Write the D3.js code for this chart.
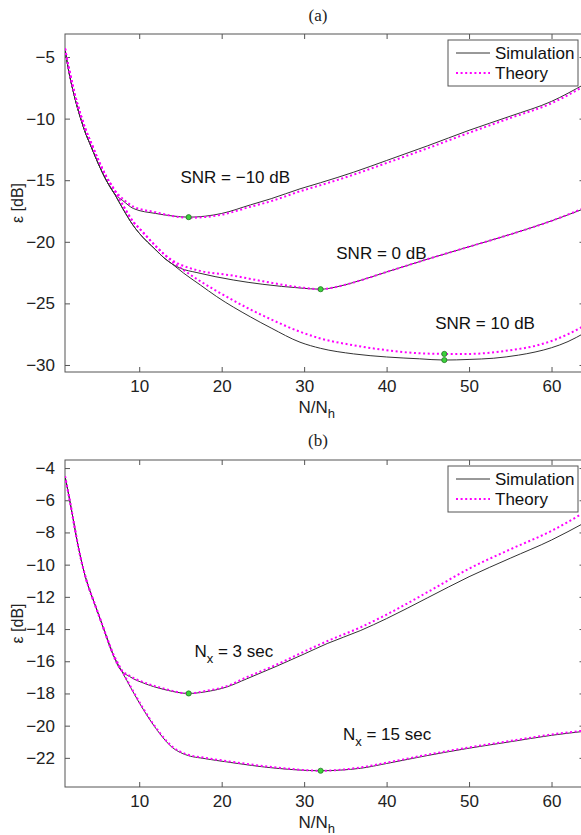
<!DOCTYPE html>
<html lang="en">
<head>
<meta charset="UTF-8" />
<title>Error vs N/Nh</title>
<script src="https://d3js.org/d3.v7.min.js"></script>
<style>
  body { margin: 0; background: #fff; }
  svg { display: block; font-family: "Liberation Sans", Arial, sans-serif; }
</style>
</head>
<body>
<svg id="chart"></svg>
<script>
// ---- data ----
const xTicks = [10, 20, 30, 40, 50, 60];
const yTicksA = [-30, -25, -20, -15, -10, -5];
const yTicksB = [-22, -20, -18, -16, -14, -12, -10, -8, -6, -4];

// panel (a): SNR curves, [N/Nh, eps dB]
const simSnrM10 = [[1,-4.4],[1.5,-6.3],[2,-7.8],[2.5,-9.1],[3,-10.2],[3.5,-11.2],[4,-12.0],[5,-13.6],[6,-15.0],[7,-16.1],
  [8,-16.65],[9.3,-17.3],[12,-17.7],[14,-17.9],[16,-18.0],[20,-17.7],[23.5,-17.0],[26,-16.5],[29.5,-15.7],[32,-15.2],
  [36,-14.35],[40,-13.4],[45,-12.2],[50,-10.95],[55,-9.8],[60,-8.6],[64,-7.2]];
const thSnrM10 = [[1,-4.3],[1.5,-6.0],[2,-7.5],[2.5,-8.8],[3,-9.9],[3.5,-10.9],[4,-11.7],[5,-13.3],[6,-14.7],[7,-15.8],
  [8,-16.5],[9.3,-17.15],[12,-17.6],[14,-17.9],[16,-18.05],[20,-17.8],[23.5,-17.15],[26,-16.7],[29.5,-15.9],[32,-15.4],
  [36,-14.55],[40,-13.6],[45,-12.4],[50,-11.15],[55,-9.95],[60,-8.75],[64,-7.35]];
const simSnr0 = [[1,-4.4],[1.5,-6.3],[2,-7.8],[2.5,-9.1],[3,-10.2],[3.5,-11.2],[4,-12.0],[5,-13.6],[6,-15.0],[7,-16.1],
  [8,-17.3],[9.3,-18.7],[10,-19.3],[12,-20.65],[13,-21.3],[14,-21.8],[15,-22.15],[17,-22.5],[21.4,-23.1],[25,-23.45],
  [29.5,-23.75],[32,-23.85],[34,-23.65],[36,-23.3],[40,-22.45],[45,-21.4],[50,-20.4],[55,-19.4],[60,-18.3],[64,-17.3]];
const thSnr0 = [[1,-4.3],[1.5,-6.0],[2,-7.5],[2.5,-8.8],[3,-9.9],[3.5,-10.9],[4,-11.7],[5,-13.3],[6,-14.7],[7,-15.8],
  [8,-17.0],[9.3,-18.4],[10,-18.9],[12,-20.35],[13,-21.0],[14,-21.5],[15,-21.85],[17,-22.3],[21.4,-22.75],[25,-23.2],
  [29.5,-23.7],[32,-23.85],[34,-23.65],[36,-23.3],[40,-22.45],[45,-21.4],[50,-20.4],[55,-19.4],[60,-18.3],[64,-17.25]];
const simSnr10 = [[1,-4.4],[1.5,-6.3],[2,-7.8],[2.5,-9.1],[3,-10.2],[3.5,-11.2],[4,-12.0],[5,-13.6],[6,-15.0],[7,-16.1],
  [8,-17.3],[9.3,-18.7],[10,-19.3],[12,-20.65],[13,-21.3],[14,-21.8],[15.4,-22.55],[17.4,-23.5],[19.4,-24.45],[23.5,-26.1],
  [26,-27.0],[29.5,-28.15],[32,-28.65],[36,-29.1],[40,-29.35],[44,-29.5],[47,-29.6],[50,-29.55],[53,-29.45],[56,-29.2],
  [58,-28.95],[60,-28.6],[62,-28.1],[64,-27.4]];
const thSnr10 = [[1,-4.3],[1.5,-6.0],[2,-7.5],[2.5,-8.8],[3,-9.9],[3.5,-10.9],[4,-11.7],[5,-13.3],[6,-14.7],[7,-15.8],
  [8,-17.0],[9.3,-18.4],[10,-18.9],[12,-20.35],[13,-21.0],[14,-21.6],[15.4,-22.3],[17.4,-23.2],[19.4,-24.0],[23.5,-25.5],
  [26,-26.3],[29.5,-27.3],[32,-27.85],[36,-28.4],[40,-28.8],[44,-29.05],[47,-29.1],[50,-29.1],[55,-28.8],[58,-28.45],
  [60,-28.05],[62,-27.5],[64,-26.8]];
const minDotsA = [[16,-18.0],[32,-23.85],[47,-29.1],[47,-29.6]];

// panel (b): record length curves
const simNx3 = [[1,-4.5],[1.5,-5.8],[2,-7.2],[2.5,-8.6],[3,-9.8],[3.5,-10.8],[4,-11.6],[4.5,-12.3],[5,-13.0],[5.7,-14.0],[6.5,-15.1],
  [7,-15.8],[7.5,-16.35],[9,-17.0],[10.5,-17.35],[13,-17.75],[16,-18.0],[18,-17.9],[20.6,-17.6],[23,-17.1],[26.7,-16.3],
  [30,-15.55],[32.8,-14.9],[36.8,-14.1],[40,-13.35],[45,-12.05],[50,-10.75],[55,-9.6],[60,-8.47],[64,-7.4]];
const thNx3 = [[1,-4.5],[1.5,-5.8],[2,-7.2],[2.5,-8.6],[3,-9.8],[3.5,-10.8],[4,-11.6],[4.5,-12.3],[5,-13.0],[5.7,-14.0],[6.5,-15.1],
  [7,-15.8],[7.5,-16.3],[9,-16.95],[10.5,-17.3],[13,-17.7],[16,-18.0],[18,-17.85],[20.6,-17.55],[23,-17.0],[26.7,-16.2],
  [30,-15.4],[32.8,-14.75],[36.8,-13.9],[40,-13.1],[45,-11.7],[50,-10.25],[55,-9.05],[60,-7.9],[64,-6.75]];
const simNx15 = [[1,-4.5],[1.5,-5.8],[2,-7.2],[2.5,-8.6],[3,-9.8],[3.5,-10.8],[4,-11.6],[4.5,-12.3],[5,-13.0],[5.7,-14.0],[6.5,-15.2],
  [7.5,-16.25],[8.5,-17.2],[10.5,-19.0],[12.5,-20.5],[14,-21.35],[15.6,-21.8],[18,-22.05],[20.6,-22.25],[26.7,-22.65],
  [32,-22.8],[36.8,-22.65],[40,-22.35],[45,-21.85],[50,-21.4],[55,-21.0],[60,-20.6],[64,-20.35]];
const thNx15 = [[1,-4.5],[1.5,-5.8],[2,-7.2],[2.5,-8.6],[3,-9.8],[3.5,-10.8],[4,-11.6],[4.5,-12.3],[5,-13.0],[5.7,-14.0],[6.5,-15.15],
  [7.5,-16.2],[8.5,-17.15],[10.5,-18.95],[12.5,-20.45],[14,-21.3],[15.6,-21.75],[18,-22.0],[20.6,-22.2],[26.7,-22.6],
  [32,-22.8],[36.8,-22.6],[40,-22.3],[45,-21.8],[50,-21.35],[55,-20.95],[60,-20.55],[64,-20.3]];
const minDotsB = [[16,-18.0],[32,-22.8]];

const legendLabels = ["Simulation", "Theory"];

// ---- layout ----
const W = 581, H = 835;
const svg = d3.select("#chart").attr("width", W).attr("height", H);
svg.append("rect").attr("width", W).attr("height", H).attr("fill", "#fff");

const panels = [
  { tag: "(a)", titleY: 15, top: 34, bottom: 372, yDomain: [-30.57, -3.13], yTicks: yTicksA,
    series: [simSnrM10, simSnr0, simSnr10], theory: [thSnrM10, thSnr0, thSnr10], dots: minDotsA,
    notes: [
      { x: 15.0, y: -15.2, parts: [["SNR = \u221210 dB", 0]] },
      { x: 33.9, y: -21.4, parts: [["SNR = 0 dB", 0]] },
      { x: 45.9, y: -27.1, parts: [["SNR = 10 dB", 0]] }
    ] },
  { tag: "(b)", titleY: 440, top: 460, bottom: 787, yDomain: [-23.81, -3.5], yTicks: yTicksB,
    series: [simNx3, simNx15], theory: [thNx3, thNx15], dots: minDotsB,
    notes: [
      { x: 16.7, y: -15.74, parts: [["N", 0], ["x", 6], [" = 3 sec", 0]] },
      { x: 34.7, y: -20.9, parts: [["N", 0], ["x", 6], [" = 15 sec", 0]] }
    ] }
];

const left = 65, right = 584.5;
const axisColor = "#555";

panels.forEach((p, i) => {
  const x = d3.scaleLinear().domain([1, 64]).range([left, right]);
  const y = d3.scaleLinear().domain(p.yDomain).range([p.bottom, p.top]);
  const g = svg.append("g");

  g.append("text")
    .attr("x", 318).attr("y", p.titleY).attr("dy", "0.35em")
    .attr("text-anchor", "middle")
    .style("font-family", "'Liberation Serif', 'Times New Roman', serif")
    .style("font-size", "17px").attr("fill", "#222")
    .text(p.tag);

  const clipId = "clip" + i;
  svg.append("clipPath").attr("id", clipId)
    .append("rect").attr("x", left).attr("y", p.top)
    .attr("width", right - left).attr("height", p.bottom - p.top);

  // axes: MATLAB style box with inward ticks
  const xb = g.append("g").attr("transform", "translate(0," + p.bottom + ")")
    .call(d3.axisBottom(x).tickValues(xTicks).tickSize(-5).tickPadding(8).tickFormat(d3.format("d")));
  const xt = g.append("g").attr("transform", "translate(0," + p.top + ")")
    .call(d3.axisTop(x).tickValues(xTicks).tickSize(-5).tickFormat(""));
  const yl = g.append("g").attr("transform", "translate(" + left + ",0)")
    .call(d3.axisLeft(y).tickValues(p.yTicks).tickSize(-5).tickPadding(10)
      .tickFormat(d => d < 0 ? "\u2212" + Math.abs(d) : d));
  const yr = g.append("g").attr("transform", "translate(" + right + ",0)")
    .call(d3.axisRight(y).tickValues(p.yTicks).tickSize(-5).tickFormat(""));
  [xb, xt, yl, yr].forEach(a => {
    a.select(".domain").remove();
    a.selectAll("line").attr("stroke", axisColor);
    a.selectAll("text").style("font-size", "17px").attr("fill", "#222")
      .style("font-family", "'Liberation Sans', Arial, sans-serif");
  });
  g.append("rect").attr("x", left).attr("y", p.top)
    .attr("width", right - left).attr("height", p.bottom - p.top)
    .attr("fill", "none").attr("stroke", axisColor).attr("stroke-width", 1);

  // axis labels
  const xl = g.append("text").attr("x", (left + right) / 2 - 8).attr("y", p.bottom + 41)
    .attr("text-anchor", "middle").style("font-size", "17px").attr("fill", "#222");
  xl.append("tspan").text("N/N");
  xl.append("tspan").attr("dy", 5).style("font-size", "13px").text("h");

  g.append("text")
    .attr("transform", "translate(17," + (p.top + p.bottom) / 2 + ") rotate(-90)")
    .attr("text-anchor", "middle").attr("dy", "0.35em")
    .style("font-size", "16px").attr("fill", "#222")
    .text("\u03b5 [dB]");

  // curves
  const line = d3.line().curve(d3.curveMonotoneX).x(d => x(d[0])).y(d => y(d[1]));
  const plot = g.append("g").attr("clip-path", "url(#" + clipId + ")");
  p.series.forEach(s => {
    plot.append("path").datum(s).attr("d", line)
      .attr("fill", "none").attr("stroke", "#333").attr("stroke-width", 1);
  });
  p.theory.forEach(s => {
    plot.append("path").datum(s).attr("d", line)
      .attr("fill", "none").attr("stroke", "#ff00ff").attr("stroke-width", 2)
      .attr("stroke-dasharray", "2,2.6");
  });
  plot.selectAll("circle").data(p.dots).join("circle")
    .attr("cx", d => x(d[0])).attr("cy", d => y(d[1])).attr("r", 2.6)
    .attr("fill", "#3bd23b").attr("stroke", "#1d6b1d").attr("stroke-width", 0.7);

  // annotations
  p.notes.forEach(n => {
    const t = g.append("text").attr("x", x(n.x)).attr("y", y(n.y))
      .style("font-size", "17px").attr("fill", "#111");
    let shift = 0;
    n.parts.forEach(([txt, dy]) => {
      const ts = t.append("tspan").attr("dy", dy - shift).text(txt);
      if (dy) ts.style("font-size", "13px");
      shift = dy;
    });
  });

  // legend
  const lg = g.append("g").attr("transform", "translate(448," + (p.top + 6) + ")");
  lg.append("rect").attr("width", 130).attr("height", 46)
    .attr("fill", "#fff").attr("stroke", axisColor).attr("stroke-width", 1);
  legendLabels.forEach((lab, k) => {
    const cy = 13 + k * 20;
    lg.append("line").attr("x1", 8).attr("x2", 42).attr("y1", cy).attr("y2", cy)
      .attr("stroke", k === 0 ? "#333" : "#ff00ff").attr("stroke-width", k === 0 ? 1 : 2)
      .attr("stroke-dasharray", k === 0 ? null : "2,2.6");
    lg.append("text").attr("x", 47).attr("y", cy).attr("dy", "0.35em")
      .style("font-size", "17px").attr("fill", "#111").text(lab);
  });
});
</script>
</body>
</html>
